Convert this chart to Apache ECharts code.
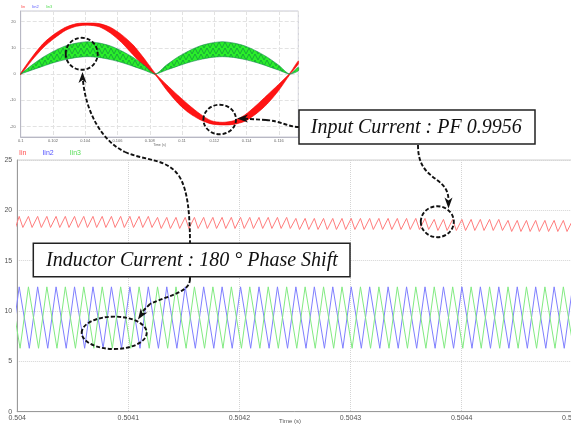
<!DOCTYPE html>
<html><head><meta charset="utf-8">
<script src="https://cdn.jsdelivr.net/npm/echarts@6/dist/echarts.min.js"></script>
<style>html,body{margin:0;padding:0;background:#fff}#c{width:571px;height:428px}</style>
</head><body><div id="c"></div>
<script>
// ---------- main window data (times in microseconds after 0.504 s) ----------
const mainXTicks = ['0.504','0.5041','0.5042','0.5043','0.5044','0.5045'];
const mainYTicks = ['0','5','10','15','20','25'];
const seriesNames = ['Iin','Iin2','Iin3'];

const redPeakUs = [1.8,10.1,18.4,26.7,35.0,43.3,51.6,59.9,68.2,76.5,84.8,93.1,101.4,109.7,118.0,126.3,134.6,142.9,151.2,159.5,167.8,176.1,184.4,192.7,201.0,209.3,217.6,225.9,234.2,242.5,250.8,259.1,267.4,275.7,284.0,292.3,300.6,308.9,317.2,325.5,333.8,342.1,350.4,358.7,367.0,375.3,383.6,391.9,400.2,408.5,416.8,425.1,433.4,441.7,450.0,458.3,466.6,474.9,483.2,491.5,499.8];
const redPeakVal = [19.4,19.4,19.4,19.4,19.4,19.4,19.4,19.4,19.4,19.4,
  19.4,19.4,19.4,19.4,19.4,19.3,19.3,19.3,19.3,19.3,
  19.3,19.3,19.3,19.3,19.3,19.3,19.3,19.3,19.3,19.3,
  19.2,19.2,19.2,19.2,19.2,19.2,19.2,19.2,19.2,19.2,
  19.2,19.2,19.2,19.2,19.2,19.1,19.1,19.1,19.1,19.1,
  19.1,19.1,19.1,19.0,19.0,19.0,19.0,19.0,19.0,19.0,
  19.0];
const redValleyUs = [-1.5,5.1,13.4,21.7,30.0,38.3,46.6,54.9,63.2,71.5,79.8,88.1,96.4,104.7,113.0,121.3,129.6,137.9,146.2,154.5,162.8,171.1,179.4,187.7,196.0,204.3,212.6,220.9,229.2,237.5,245.8,254.1,262.4,270.7,279.0,287.3,295.6,303.9,312.2,320.5,328.8,337.1,345.4,353.7,362.0,370.3,378.6,386.9,395.2,403.5,411.8,420.1,428.4,436.7,445.0,453.3,461.6,469.9,478.2,486.5,494.8,503.1];
const redValleyVal = [18.3,18.3,18.3,18.3,18.3,18.3,18.3,18.3,18.3,18.3,
  18.3,18.3,18.3,18.3,18.3,18.3,18.2,18.2,18.2,18.2,
  18.2,18.2,18.2,18.2,18.2,18.2,18.2,18.2,18.2,18.2,
  18.2,18.1,18.1,18.1,18.1,18.1,18.1,18.1,18.1,18.1,
  18.1,18.1,18.1,18.1,18.1,18.1,18.0,18.0,18.0,18.0,
  18.0,18.0,18.0,18.0,17.9,17.9,17.9,17.9,17.9,17.9,
  17.9,17.9];

const bluePeakUs = [1.8,18.4,35.0,51.6,68.2,84.8,101.4,118.0,134.6,151.2,167.8,184.4,201.0,217.6,234.2,250.8,267.4,284.0,300.6,317.2,333.8,350.4,367.0,383.6,400.2,416.8,433.4,450.0,466.6,483.2,499.8];
const bluePeakVal = [12.4,12.4,12.4,12.4,12.4,12.4,12.4,12.4,12.4,12.4,
  12.4,12.4,12.4,12.4,12.4,12.4,12.4,12.4,12.4,12.4,
  12.4,12.4,12.4,12.4,12.4,12.4,12.4,12.4,12.4,12.4,12.4];
const blueValleyUs = [-5.7,10.9,27.5,44.1,60.7,77.3,93.9,110.5,127.1,143.7,160.3,176.9,193.5,210.1,226.7,243.3,259.9,276.5,293.1,309.7,326.3,342.9,359.5,376.1,392.7,409.3,425.9,442.5,459.1,475.7,492.3,508.9];
const blueValleyVal = [6.3,6.3,6.3,6.3,6.3,6.3,6.3,6.3,6.3,6.3,
  6.3,6.3,6.3,6.3,6.3,6.3,6.3,6.3,6.3,6.3,
  6.3,6.3,6.3,6.3,6.3,6.3,6.3,6.3,6.3,6.3,6.3,6.3];

const greenPeakUs = [-6.5,10.1,26.7,43.3,59.9,76.5,93.1,109.7,126.3,142.9,159.5,176.1,192.7,209.3,225.9,242.5,259.1,275.7,292.3,308.9,325.5,342.1,358.7,375.3,391.9,408.5,425.1,441.7,458.3,474.9,491.5];
const greenPeakVal = [12.4,12.4,12.4,12.4,12.4,12.4,12.4,12.4,12.4,12.4,
  12.4,12.4,12.4,12.4,12.4,12.4,12.4,12.4,12.4,12.4,
  12.4,12.4,12.4,12.4,12.4,12.4,12.4,12.4,12.4,12.4,12.4];
const greenValleyUs = [2.6,19.2,35.8,52.4,69.0,85.6,102.2,118.8,135.4,152.0,168.6,185.2,201.8,218.4,235.0,251.6,268.2,284.8,301.4,318.0,334.6,351.2,367.8,384.4,401.0,417.6,434.2,450.8,467.4,484.0,500.6];
const greenValleyVal = [6.3,6.3,6.3,6.3,6.3,6.3,6.3,6.3,6.3,6.3,
  6.3,6.3,6.3,6.3,6.3,6.3,6.3,6.3,6.3,6.3,
  6.3,6.3,6.3,6.3,6.3,6.3,6.3,6.3,6.3,6.3,6.3];

// ---------- inset (line-cycle view) data ----------
const insetXTicks = ['0.1','0.102','0.104','0.106','0.108','0.11','0.112','0.114','0.116'];
const insetYTicks = ['-20','-10','0','10','20'];
const insetT = [0.1,0.100694,0.101389,0.102083,0.102778,0.103472,0.104167,0.104861,0.105556,0.10625,0.106944,0.107639,0.108333,0.109028,0.109722,0.110417,0.111111,0.111806,0.1125,0.113194,0.113889,0.114583,0.115278,0.115972,0.116667,0.1172];
const inRedUpper = [0.3,6.4,11.6,15.2,17.8,19.2,19.4,19.2,17.8,15.0,11.2,6.0,0.3,-4.0,-8.0,-11.8,-15.2,-17.8,-18.4,-17.8,-15.6,-12.0,-8.0,-4.0,0.3,5.0];
const inRedLower = [-0.3,5.2,10.0,13.6,16.6,18.2,18.6,18.0,15.6,12.0,7.4,3.0,-0.3,-6.0,-11.0,-14.8,-17.4,-19.0,-19.4,-19.2,-18.0,-15.2,-11.4,-6.4,-0.3,3.8];
const inGreenUpper = [0,3.4,6.4,8.8,10.7,11.8,12.3,11.8,10.7,8.8,6.4,3.4,0,3.4,6.4,8.8,10.7,11.8,12.3,11.8,10.7,8.8,6.4,3.4,0,2.6];
const inGreenLower = [0,1.5,3.0,4.4,5.5,6.3,6.6,6.3,5.5,4.4,3.0,1.5,0,1.5,3.0,4.4,5.5,6.3,6.6,6.3,5.5,4.4,3.0,1.5,0,1.2];

// ---------- build ----------
function merge(pUs, pV, vUs, vV) {
  const pts = [];
  pUs.forEach((u, i) => pts.push([0.504 + u * 1e-6, pV[i]]));
  vUs.forEach((u, i) => pts.push([0.504 + u * 1e-6, vV[i]]));
  pts.sort((a, b) => a[0] - b[0]);
  return pts;
}
const FONT = '"Liberation Sans", Arial, sans-serif';

const pc = document.createElement('canvas');
pc.width = 6; pc.height = 6;
const g = pc.getContext('2d');
g.fillStyle = '#2aee2a'; g.fillRect(0, 0, 6, 6);
g.strokeStyle = '#16983c'; g.lineWidth = 0.8;
g.beginPath(); g.moveTo(0, 6); g.lineTo(3, 0); g.lineTo(6, 6); g.stroke();
const greenPattern = { image: pc, repeat: 'repeat' };

function bandSeries(name, up, lo, fill, stroke) {
  return {
    type: 'custom', name, xAxisIndex: 1, yAxisIndex: 1,
    data: insetT.map((t, i) => [t, up[i], lo[i]]),
    encode: { x: 0, y: [1, 2] },
    renderItem: (params, api) => {
      if (params.dataIndex !== 0) return null;
      const pts = [];
      for (let i = 0; i < insetT.length; i++) pts.push(api.coord([insetT[i], up[i]]));
      for (let i = insetT.length - 1; i >= 0; i--) pts.push(api.coord([insetT[i], lo[i]]));
      return { type: 'polygon', shape: { points: pts, smooth: 0.25 }, style: { fill, stroke, lineWidth: 0.6 } };
    }
  };
}

const dash = { stroke: '#111', lineWidth: 1.9, lineDash: [4, 2], fill: null };
function head(tx, ty, ang, len, w) {
  len = len || 11; w = w || 4;
  const c = Math.cos(ang), s = Math.sin(ang);
  const bx = tx - len * c, by = ty - len * s;
  const mx = tx - len * 0.72 * c, my = ty - len * 0.72 * s;
  const nx = -s, ny = c;
  return { type: 'polygon', z: 102, shape: { points: [[tx, ty], [bx + nx * w, by + ny * w], [mx, my], [bx - nx * w, by - ny * w]] }, style: { fill: '#111' } };
}
function bz(x1, y1, c1x, c1y, c2x, c2y, x2, y2) {
  return { type: 'bezierCurve', z: 100, shape: { x1, y1, cpx1: c1x, cpy1: c1y, cpx2: c2x, cpy2: c2y, x2, y2 }, style: dash };
}
function ln(x1, y1, x2, y2) {
  return { type: 'line', z: 100, shape: { x1, y1, x2, y2 }, style: dash };
}
function ell(cx, cy, rx, ry) {
  return { type: 'ellipse', z: 101, shape: { cx, cy, rx, ry }, style: dash };
}

const chart = echarts.init(document.getElementById('c'), null, { renderer: 'canvas' });
const legendData = (fs) => [
  { name: 'Iin', textStyle: { color: '#ff5050', fontSize: fs } },
  { name: 'Iin2', textStyle: { color: '#5555ff', fontSize: fs } },
  { name: 'Iin3', textStyle: { color: '#55dd55', fontSize: fs } }
];

chart.setOption({
  animation: false,
  backgroundColor: '#fff',
  textStyle: { fontFamily: FONT },
  legend: [
    { data: legendData(7), left: 13, top: 150, padding: 0, itemWidth: 0, itemHeight: 0, itemGap: 10, selectedMode: false, textStyle: { fontFamily: FONT } },
    { data: legendData(4), left: 15, top: 5, padding: 0, itemWidth: 0, itemHeight: 0, itemGap: 1, selectedMode: false, textStyle: { fontFamily: FONT } }
  ],
  grid: [
    { left: 17.2, right: -1.8, top: 160, bottom: 16.3, show: true, borderColor: '#d0d0d0', borderWidth: 1, containLabel: false, outerBoundsMode: 'none' },
    { left: 20.7, top: 11, width: 277.6, height: 126, show: true, borderColor: '#c8c8d4', borderWidth: 1, containLabel: false, outerBoundsMode: 'none' }
  ],
  xAxis: [
    { type: 'value', gridIndex: 0, min: 0.504, max: 0.5045, interval: 0.0001,
      axisLine: { show: true, onZero: false, lineStyle: { color: '#9a9a9a' } }, axisTick: { show: false },
      axisLabel: { fontSize: 7, color: '#555', margin: 3, formatter: v => { const k = Math.round((v - 0.504) / 0.0001); return mainXTicks[k] || ''; } },
      splitLine: { show: true, lineStyle: { color: '#d4d4d4', type: 'dotted' } },
      name: 'Time (s)', nameLocation: 'middle', nameGap: 7, nameMoveOverlap: false, nameTextStyle: { fontSize: 6, color: '#555', padding: [0, 10, 0, 0] } },
    { type: 'value', gridIndex: 1, min: 0.1, max: 0.1172, interval: 0.002,
      axisLine: { show: true, onZero: false, lineStyle: { color: '#b8b8c4' } }, axisTick: { show: false },
      axisLabel: { fontSize: 4, color: '#666', margin: 2, formatter: v => { const k = Math.round((v - 0.1) / 0.002); return Math.abs(v - (0.1 + 0.002 * k)) < 1e-7 ? (insetXTicks[k] || '') : ''; } },
      splitLine: { show: true, lineStyle: { color: '#e2e2e2', type: 'dashed' } },
      name: 'Time (s)', nameLocation: 'middle', nameGap: 6, nameMoveOverlap: false, nameTextStyle: { fontSize: 3.5, color: '#666' } }
  ],
  yAxis: [
    { type: 'value', gridIndex: 0, min: 0, max: 25, interval: 5,
      axisLine: { show: true, lineStyle: { color: '#9a9a9a' } }, axisTick: { show: false },
      axisLabel: { fontSize: 7, color: '#555', margin: 5, formatter: v => mainYTicks[Math.round(v / 5)] || '' },
      splitLine: { show: true, lineStyle: { color: '#d4d4d4', type: 'dotted' } } },
    { type: 'value', gridIndex: 1, min: -24, max: 24, splitNumber: 5,
      axisLine: { show: true, lineStyle: { color: '#b8b8c4' } }, axisTick: { show: false },
      axisLabel: { fontSize: 4, color: '#666', margin: 5, formatter: v => { if (v % 10 !== 0) return ''; return insetYTicks[Math.round(v / 10) + 2] || ''; } },
      splitLine: { show: true, lineStyle: { color: '#e2e2e2', type: 'dashed' } } }
  ],
  series: [
    { type: 'line', name: 'Iin', xAxisIndex: 0, yAxisIndex: 0, data: merge(redPeakUs, redPeakVal, redValleyUs, redValleyVal), showSymbol: false, symbol: 'none', clip: true, lineStyle: { color: '#ff7d7d', width: 1 }, itemStyle: { color: '#ff5050' } },
    { type: 'line', name: 'Iin2', xAxisIndex: 0, yAxisIndex: 0, data: merge(bluePeakUs, bluePeakVal, blueValleyUs, blueValleyVal), showSymbol: false, symbol: 'none', clip: true, lineStyle: { color: '#7f7fff', width: 1 }, itemStyle: { color: '#5555ff' } },
    { type: 'line', name: 'Iin3', xAxisIndex: 0, yAxisIndex: 0, data: merge(greenPeakUs, greenPeakVal, greenValleyUs, greenValleyVal), showSymbol: false, symbol: 'none', clip: true, lineStyle: { color: '#82ea82', width: 1 }, itemStyle: { color: '#55dd55' } },
    bandSeries('Iin', inRedUpper, inRedLower, '#ff1414', '#f00000'),
    bandSeries('Iin3', inGreenUpper, inGreenLower, greenPattern, '#138a4a')
  ],
  graphic: [
    // dashed connector arrows
    bz(83, 81, 86, 110, 100, 140, 125, 152),
    bz(125, 152, 145, 161, 167, 158, 179, 176),
    bz(179, 176, 188, 190, 190, 215, 190, 245),
    ln(190, 245, 190, 279),
    bz(190, 279, 190, 293, 166, 296, 150, 304),
    ln(150, 304, 143, 311),
    head(82.5, 72, -Math.PI / 2),
    head(138, 319.5, 2.16),
    bz(299, 127, 288, 127, 281, 121, 266, 120),
    ln(266, 120, 245, 118.7),
    head(237, 118.5, Math.PI),
    bz(418, 145, 418, 165, 426, 172, 437, 180),
    bz(437, 180, 445, 186, 448, 191, 448.5, 199),
    head(448.5, 208.5, Math.PI / 2),
    // dashed circles / ellipse
    ell(81.7, 53.8, 16, 16),
    ell(219.7, 119.5, 16.3, 14.8),
    ell(437.3, 221.7, 16.5, 15.5),
    ell(114.2, 332.8, 32.5, 16.2),
    // text boxes
    { type: 'rect', z: 110, shape: { x: 299, y: 110, width: 236, height: 34 }, style: { fill: '#fff', stroke: '#222', lineWidth: 1.5 } },
    { type: 'text', z: 111, x: 416.2, y: 127.5, style: { text: 'Input Current : PF 0.9956', font: 'italic 20px "Liberation Serif", "Times New Roman", serif', fill: '#111', align: 'center', verticalAlign: 'middle' } },
    { type: 'rect', z: 110, shape: { x: 33.3, y: 243.3, width: 316.7, height: 33.4 }, style: { fill: '#fff', stroke: '#222', lineWidth: 1.5 } },
    { type: 'text', z: 111, x: 191.9, y: 260.5, style: { text: 'Inductor Current : 180 ° Phase Shift', font: 'italic 20px "Liberation Serif", "Times New Roman", serif', fill: '#111', align: 'center', verticalAlign: 'middle' } }
  ]
});
</script>
</body></html>
